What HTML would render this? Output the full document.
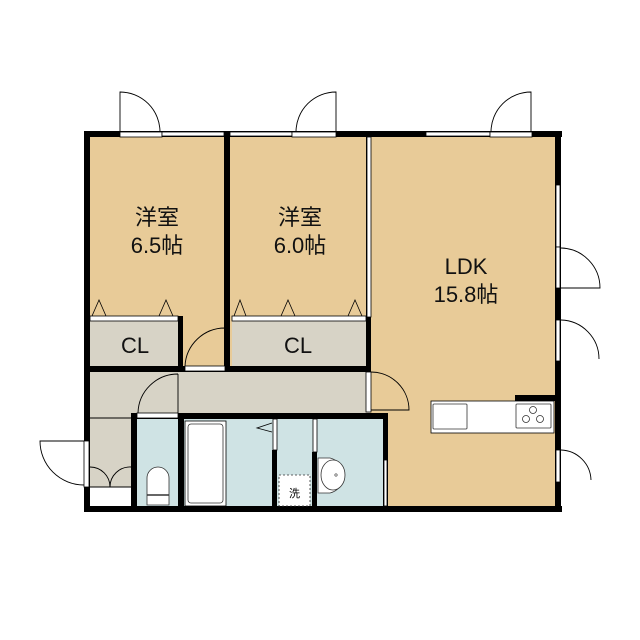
<!DOCTYPE html>
<html><head><meta charset="utf-8"><style>body{margin:0;background:#fff}svg{display:block}</style></head><body>
<svg width="640" height="640" viewBox="0 0 640 640" xmlns="http://www.w3.org/2000/svg" font-family="Liberation Sans, Noto Sans CJK JP, sans-serif">
<rect width="640" height="640" fill="#fff"/>
<rect x="88" y="134" width="470" height="375" fill="#e8cb98"/>
<rect x="90" y="370" width="280" height="45" fill="#d7d3c6"/>
<rect x="90" y="413" width="43" height="80" fill="#d7d3c6"/>
<rect x="90" y="320" width="90" height="46" fill="#d7d3c6"/>
<rect x="232" y="320" width="136" height="46" fill="#d7d3c6"/>
<rect x="133" y="415" width="252" height="92" fill="#cfe3e4"/>
<rect x="90" y="487" width="43" height="19" fill="#fff"/>
<g fill="#000">
<rect x="84" y="131" width="478" height="6"/>
<rect x="84" y="131" width="6" height="381"/>
<rect x="84" y="506" width="478" height="6"/>
<rect x="555" y="131" width="6" height="381"/>
<rect x="224" y="131" width="6" height="240"/>
<rect x="366" y="131" width="5" height="240"/>
<rect x="84" y="366" width="287" height="6"/>
<rect x="178" y="316" width="5" height="54"/>
<rect x="131" y="413" width="257" height="6"/>
<rect x="131" y="413" width="6" height="97"/>
<rect x="178" y="413" width="6" height="97"/>
<rect x="272" y="450" width="5" height="60"/>
<rect x="312" y="452" width="5" height="58"/>
<rect x="383" y="413" width="5" height="97"/>
<rect x="515" y="395" width="45" height="6"/>
</g>
<rect x="90" y="316" width="88" height="5" fill="#fff" stroke="#000" stroke-width="0.8"/>
<rect x="232" y="316" width="134" height="5" fill="#fff" stroke="#000" stroke-width="0.8"/>
<g fill="none" stroke="#000" stroke-width="0.8">
<path d="M92 316 L99 300 L106 316 M159 316 L166 300 L173 316 M234 316 L240 300 L246 316 M281 316 L288 300 L295 316 M348 316 L355 300 L362 316"/>
</g>
<g fill="#fff" stroke="#000" stroke-width="0.8">
<rect x="120" y="132" width="42" height="5"/>
<rect x="162" y="132" width="62" height="4"/>
<rect x="230" y="132" width="62" height="4"/>
<rect x="292" y="132" width="44" height="5"/>
<rect x="426" y="132" width="64" height="4"/>
<rect x="490" y="132" width="42" height="5"/>
<rect x="556" y="185" width="4" height="62"/>
<rect x="556" y="247" width="4" height="41"/>
<rect x="556" y="320" width="4" height="41"/>
<rect x="556" y="450" width="4" height="32"/>
<rect x="185" y="366" width="40" height="5"/>
<rect x="137" y="413" width="41" height="5"/>
<rect x="366" y="372" width="5" height="40"/>
<rect x="367" y="137" width="4" height="180"/>
<rect x="84" y="441" width="5" height="46"/>
<rect x="273" y="419" width="4" height="31"/>
<rect x="313" y="419" width="4" height="33"/>
<rect x="384" y="460" width="3" height="46"/>
</g>
<g fill="none" stroke="#000" stroke-width="0.9">
<path d="M120 132 V92 A40 40 0 0 1 160 132"/>
<path d="M336 132 V92 A40 40 0 0 0 296 132"/>
<path d="M531 132 V92 A40 40 0 0 0 491 132"/>
<path d="M561 248 A40 40 0 0 1 600 288 H561"/>
<path d="M561 320 A39 39 0 0 1 599 359"/>
<path d="M561 450 A31 31 0 0 1 591 480"/>
<path d="M225 328 V366 M225 328 A40 40 0 0 0 185 366"/>
<path d="M178 374 V413 M178 374 A40 40 0 0 0 138 413"/>
<path d="M371 372 A38 38 0 0 1 409 410 H371"/>
<path d="M84 441 H40 A44 44 0 0 0 84 485"/>
<path d="M90 467 A20 20 0 0 1 110 487 M131 467 A20 20 0 0 0 110 487 M90 487 H131"/>
<path d="M90 418 H131"/>
</g>
<rect x="431" y="401" width="123" height="32" fill="#fff" stroke="#000" stroke-width="0.8"/>
<rect x="433" y="404" width="34" height="25" fill="#fff" stroke="#333" stroke-width="0.8" rx="1"/>
<rect x="516" y="404" width="35" height="24" fill="#fff" stroke="#333" stroke-width="0.8" rx="1"/>
<g fill="none" stroke="#333" stroke-width="0.8"><circle cx="533" cy="410" r="3.5"/><circle cx="526" cy="419" r="3.5"/><circle cx="540" cy="419" r="3.5"/></g>
<rect x="185" y="421" width="41" height="85" fill="#fff" stroke="#000" stroke-width="0.8"/>
<rect x="188" y="424" width="35" height="79" rx="3" fill="#fff" stroke="#333" stroke-width="0.8"/>
<path d="M272 423 L257 428 L272 432" fill="none" stroke="#000" stroke-width="0.8"/>
<path d="M147 505 V478 A11 11 0 0 1 169 478 V505 Z" fill="#fff" stroke="#333" stroke-width="0.8"/>
<line x1="147" y1="495" x2="169" y2="495" stroke="#333" stroke-width="1.5"/>
<rect x="279" y="475" width="31" height="31" fill="#fff" stroke="#333" stroke-width="0.8" stroke-dasharray="2,2"/>
<text x="294.5" y="497" font-size="11" text-anchor="middle">洗</text>
<path d="M318 458 H330 A18 18 0 0 1 330 493 H318 Z" fill="#fff" stroke="#333" stroke-width="0.8"/>
<ellipse cx="333" cy="475" rx="12" ry="15" fill="#fff" stroke="#333" stroke-width="0.8"/>
<circle cx="336" cy="475" r="1.2" fill="none" stroke="#333" stroke-width="0.6"/>
<g font-size="22" text-anchor="middle" fill="#111">
<text x="157" y="225">洋室</text><text x="157" y="253">6.5帖</text>
<text x="300" y="225">洋室</text><text x="300" y="253">6.0帖</text>
<text x="466" y="274">LDK</text><text x="466" y="302">15.8帖</text>
<text x="135" y="353">CL</text><text x="298" y="353">CL</text>
</g>
</svg>
</body></html>
